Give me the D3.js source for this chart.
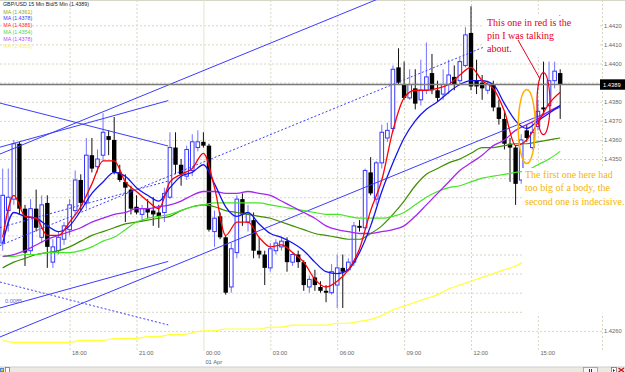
<!DOCTYPE html>
<html>
<head>
<meta charset="utf-8">
<script src="https://cdn.jsdelivr.net/npm/d3@7"></script>
<style>
  body { margin: 0; background: #fff; }
  svg { display: block; font-family: "Liberation Sans", Arial, sans-serif; }
  .note { font-family: "Liberation Serif", "Times New Roman", serif; font-size: 10px; }
</style>
</head>
<body>
<svg id="chart" width="625" height="372"></svg>
<script>
// ---- data (GBP/USD 15 min, 31 Mar 15:00 .. 01 Apr 16:00) ----
const startTime = Date.UTC(2009, 2, 31, 15, 0);
const barMinutes = 15;

const opens = [1.4306,1.4323,1.4329,1.4358,1.4324,1.4302,1.4324,1.4309,1.4327,1.4296,
  1.4302,1.4308,1.4313,1.4323,1.4339,1.4327,1.4352,1.4346,1.4352,1.4362,
  1.4360,1.4343,1.4338,1.4334,1.4325,1.4321,1.4324,1.4323,1.4322,1.4322,
  1.4330,1.4356,1.4347,1.4341,1.4344,1.4356,1.4359,1.4357,1.4312,1.4320,
  1.4309,1.4283,1.4301,1.4329,1.4317,1.4318,1.4302,1.4300,1.4293,1.4302,
  1.4304,1.4307,1.4296,1.4300,1.4296,1.4283,1.4288,1.4283,1.4281,1.4280,
  1.4284,1.4293,1.4292,1.4296,1.4315,1.4314,1.4343,1.4329,1.4348,1.4361,
  1.4366,1.4398,1.4389,1.4382,1.4387,1.4381,1.4386,1.4395,1.4386,1.4384,
  1.4389,1.4393,1.4391,1.4399,1.4416,1.4391,1.4390,1.4386,1.4389,1.4377,
  1.4371,1.4358,1.4356,1.4339,1.4365,1.4356,1.4367,1.4377,1.4378,1.4391,
  1.4395];
const highs = [1.4345,1.4345,1.4360,1.4359,1.4326,1.4329,1.4334,1.4331,1.4331,1.4308,
  1.4312,1.4317,1.4329,1.4344,1.4342,1.4361,1.4361,1.4355,1.4374,1.4365,
  1.4372,1.4347,1.4342,1.4336,1.4331,1.4326,1.4329,1.4330,1.4326,1.4335,
  1.4364,1.4364,1.4350,1.4357,1.4363,1.4365,1.4364,1.4358,1.4323,1.4322,
  1.4310,1.4306,1.4331,1.4332,1.4326,1.4322,1.4309,1.4302,1.4306,1.4308,
  1.4309,1.4309,1.4301,1.4302,1.4297,1.4289,1.4292,1.4286,1.4284,1.4295,
  1.4300,1.4300,1.4298,1.4317,1.4318,1.4345,1.4351,1.4349,1.4368,1.4369,
  1.4399,1.4408,1.4401,1.4397,1.4397,1.4402,1.4411,1.4405,1.4391,1.4397,
  1.4402,1.4399,1.4403,1.4419,1.4430,1.4402,1.4394,1.4391,1.4391,1.4381,
  1.4375,1.4361,1.4357,1.4363,1.4368,1.4370,1.4381,1.4401,1.4401,1.4401,
  1.4397];
const lows = [1.4302,1.4312,1.4326,1.4321,1.4294,1.4300,1.4312,1.4306,1.4293,1.4293,
  1.4300,1.4305,1.4310,1.4321,1.4323,1.4324,1.4343,1.4343,1.4349,1.4352,
  1.4342,1.4338,1.4317,1.4321,1.4321,1.4317,1.4319,1.4315,1.4314,1.4317,
  1.4329,1.4342,1.4336,1.4339,1.4341,1.4354,1.4356,1.4312,1.4304,1.4308,
  1.4279,1.4280,1.4298,1.4315,1.4312,1.4298,1.4298,1.4284,1.4291,1.4300,
  1.4302,1.4291,1.4294,1.4293,1.4281,1.4280,1.4281,1.4280,1.4275,1.4279,
  1.4272,1.4272,1.4291,1.4294,1.4312,1.4313,1.4331,1.4326,1.4345,1.4359,
  1.4364,1.4389,1.4381,1.4381,1.4376,1.4378,1.4384,1.4384,1.4380,1.4381,
  1.4384,1.4386,1.4389,1.4398,1.4386,1.4384,1.4381,1.4384,1.4375,1.4368,
  1.4355,1.4338,1.4326,1.4337,1.4359,1.4355,1.4365,1.4373,1.4377,1.4387,
  1.4371];
const closes = [1.4331,1.4330,1.4358,1.4324,1.4301,1.4324,1.4314,1.4326,1.4304,1.4304,
  1.4309,1.4315,1.4326,1.4339,1.4327,1.4352,1.4345,1.4350,1.4364,1.4360,
  1.4343,1.4339,1.4335,1.4324,1.4322,1.4324,1.4322,1.4321,1.4320,1.4332,
  1.4356,1.4347,1.4342,1.4355,1.4359,1.4359,1.4357,1.4313,1.4319,1.4309,
  1.4280,1.4303,1.4329,1.4321,1.4321,1.4302,1.4300,1.4293,1.4303,1.4306,
  1.4307,1.4296,1.4300,1.4296,1.4284,1.4287,1.4284,1.4281,1.4280,1.4291,
  1.4293,1.4291,1.4296,1.4315,1.4314,1.4344,1.4332,1.4348,1.4364,1.4365,
  1.4397,1.4390,1.4382,1.4389,1.4379,1.4386,1.4393,1.4386,1.4382,1.4389,
  1.4394,1.4389,1.4401,1.4415,1.4388,1.4388,1.4387,1.4389,1.4377,1.4371,
  1.4358,1.4356,1.4337,1.4360,1.4361,1.4364,1.4375,1.4376,1.4391,1.4396,
  1.4389];

// moving averages, read every second bar (bar 0, 2, 4 ... 100)
const maStep = 2;
const maRed = [1.4309,1.4331,1.4320,1.4319,1.4310,1.4310,1.4317,1.4325,1.4337,1.4349,
  1.4349,1.4338,1.4333,1.4328,1.4324,1.4338,1.4342,1.4345,1.4353,1.4335,
  1.4310,1.4317,1.4317,1.4309,1.4304,1.4305,1.4301,1.4296,1.4287,1.4283,
  1.4286,1.4292,1.4303,1.4323,1.4339,1.4365,1.4382,1.4386,1.4386,1.4387,
  1.4389,1.4394,1.4398,1.4391,1.4387,1.4375,1.4357,1.4360,1.4369,1.4379,
  1.4385];
const maBlue = [1.4306,1.4322,1.4320,1.4319,1.4315,1.4312,1.4315,1.4323,1.4332,1.4338,
  1.4343,1.4341,1.4335,1.4331,1.4328,1.4335,1.4341,1.4343,1.4347,1.4337,
  1.4325,1.4320,1.4322,1.4316,1.4311,1.4309,1.4306,1.4302,1.4296,1.4291,
  1.4290,1.4292,1.4301,1.4315,1.4333,1.4348,1.4361,1.4370,1.4376,1.4380,
  1.4385,1.4389,1.4391,1.4391,1.4389,1.4379,1.4370,1.4366,1.4370,1.4374,
  1.4378];
const maPurple = [1.4299,1.4300,1.4302,1.4305,1.4308,1.4310,1.4312,1.4314,1.4317,1.4319,
  1.4321,1.4322,1.4324,1.4324,1.4325,1.4326,1.4328,1.4331,1.4333,1.4333,
  1.4332,1.4332,1.4333,1.4332,1.4331,1.4328,1.4325,1.4322,1.4319,1.4315,
  1.4313,1.4312,1.4311,1.4311,1.4312,1.4313,1.4315,1.4320,1.4326,1.4332,
  1.4338,1.4344,1.4348,1.4352,1.4357,1.4360,1.4365,1.4368,1.4371,1.4375,
  1.4378];
const maGreen = [1.4293,1.4296,1.4298,1.4300,1.4301,1.4302,1.4304,1.4307,1.4310,1.4312,
  1.4314,1.4316,1.4317,1.4318,1.4319,1.4320,1.4323,1.4325,1.4326,1.4325,
  1.4323,1.4322,1.4321,1.4320,1.4319,1.4317,1.4315,1.4313,1.4311,1.4310,
  1.4309,1.4308,1.4308,1.4311,1.4315,1.4321,1.4328,1.4336,1.4342,1.4345,
  1.4348,1.4350,1.4353,1.4356,1.4356,1.4357,1.4358,1.4358,1.4359,1.4360,
  1.4361];
const maLime = [1.4299,1.4299,1.4300,1.4300,1.4301,1.4301,1.4301,1.4302,1.4304,1.4307,
  1.4309,1.4313,1.4317,1.4319,1.4320,1.4321,1.4323,1.4325,1.4326,1.4327,
  1.4327,1.4327,1.4327,1.4327,1.4326,1.4325,1.4324,1.4323,1.4322,1.4321,
  1.4321,1.4320,1.4319,1.4319,1.4319,1.4320,1.4322,1.4326,1.4330,1.4333,
  1.4335,1.4336,1.4338,1.4340,1.4341,1.4342,1.4343,1.4344,1.4347,1.4350,
  1.4354];
const maYellow = [1.4255,1.4254,1.4254,1.4254,1.4254,1.4254,1.4254,1.4255,1.4255,1.4255,
  1.4256,1.4256,1.4256,1.4257,1.4257,1.4258,1.4258,1.4259,1.4260,1.4260,
  1.4261,1.4261,1.4261,1.4261,1.4262,1.4262,1.4263,1.4263,1.4263,1.4263,
  1.4264,1.4264,1.4265,1.4266,1.4268,1.4271,1.4273,1.4275,1.4277,1.4279,
  1.4282,1.4284,1.4286,1.4288,1.4290,1.4292,1.4294,1.4297,1.4299,1.4301,
  1.4303];

// regression channels: [from bar, to bar], midline prices at both ends, half width
const chanLong  = { bars: [-0.5, 100],  mid: [1.43047, 1.44250], half: 0.00479 };
const chanDown  = { bars: [-0.5, 29.7], mid: [1.43141, 1.43385], half: 0.00421 };
const chanUp    = { bars: [-0.5, 29.7], mid: [1.42856, 1.42631], half: 0.00937 };

const priceTicks = [1.4260,1.4270,1.4280,1.4290,1.4300,1.4310,1.4320,1.4330,1.4340,
  1.4350,1.4360,1.4370,1.4380,1.4390,1.4400,1.4410,1.4420];

const redNote = ["This one in red is the", "pin I was talking", "about."];
const yellowNote = ["The first one here had", "too big of a body, the", "second one is indecisive."];

// ---- drawing ----
const svg = d3.select("#chart");
const plotRight = 602, plotBottom = 350;
const fmt = d3.format(".4f");
const barTime = i => new Date(startTime + i * barMinutes * 60000);

const x = d3.scaleUtc().domain([barTime(0), barTime(100)]).range([2.7, 560.2]);
const y = d3.scaleLinear().domain([1.4250, 1.4433]).range([plotBottom, 0.5]);

// the pasted note on the lower right hides part of the price scale
const noteBox = { x: 522, y: 168, w: 103, h: 145.5 };

svg.append("rect").attr("width", 625).attr("height", 372).attr("fill", "#fff");
svg.append("line").attr("x1", 0).attr("x2", 625).attr("y1", 0.5).attr("y2", 0.5)
  .attr("stroke", "#d8d6c8");

svg.append("clipPath").attr("id", "plotClip")
  .append("rect").attr("width", plotRight).attr("height", plotBottom);

// price grid + labels
const yAxis = svg.append("g")
  .call(d3.axisRight(y).tickValues(priceTicks).tickFormat(fmt).tickSize(plotRight).tickPadding(2));
yAxis.select(".domain").remove();
yAxis.selectAll("line").attr("stroke", "#d9d6c2").attr("stroke-dasharray", "2,2");
yAxis.selectAll("text").attr("font-size", "5.8px").attr("fill", "#666");
yAxis.selectAll(".tick").filter(d => y(d) > noteBox.y - 3 && y(d) < noteBox.y + noteBox.h)
  .select("text").remove();

// time grid + labels (no label for the partial first hour at the left edge)
const hourTicks = x.ticks(d3.utcHour.every(3)).filter(d => x(d) > 20);
const xAxis = svg.append("g")
  .call(d3.axisBottom(x).tickValues(hourTicks).tickFormat(d3.utcFormat("%H:%M"))
    .tickSize(plotBottom + 1).tickPadding(0));
xAxis.select(".domain").remove();
xAxis.selectAll("line")
  .attr("stroke", d => d.getUTCHours() === 0 ? "#e6e4d2" : "#d9d6c2")
  .attr("stroke-dasharray", d => d.getUTCHours() === 0 ? null : "2,2");
xAxis.selectAll("text").attr("font-size", "5.8px").attr("fill", "#666")
  .attr("text-anchor", "start").attr("dx", 2);
const midnight = hourTicks.find(d => d.getUTCHours() === 0);
svg.append("text").attr("x", x(midnight) + 2).attr("y", 363.5)
  .attr("font-size", "5.8px").attr("fill", "#666").text(d3.utcFormat("%d %b")(midnight));

svg.append("line").attr("x1", plotRight + 0.5).attr("x2", plotRight + 0.5)
  .attr("y1", 0).attr("y2", plotBottom + 1)
  .attr("stroke", "#d9d6c2").attr("stroke-dasharray", "2,2");

const plot = svg.append("g").attr("clip-path", "url(#plotClip)");

// candles
const bars = opens.map((o, i) => ({ t: barTime(i), o, h: highs[i], l: lows[i], c: closes[i] }));
const cand = plot.append("g");
cand.selectAll("line").data(bars).join("line")
  .attr("x1", d => x(d.t)).attr("x2", d => x(d.t))
  .attr("y1", d => y(d.h)).attr("y2", d => y(d.l))
  .attr("stroke", d => d.c >= d.o ? "#7373ff" : "#111")
  .attr("stroke-width", 1);
cand.selectAll("rect").data(bars).join("rect")
  .attr("x", d => d.c >= d.o ? x(d.t) - 1.8 : x(d.t) - 2.2)
  .attr("width", d => d.c >= d.o ? 3.6 : 4.4)
  .attr("y", d => y(Math.max(d.o, d.c)))
  .attr("height", d => Math.max(1, Math.abs(y(d.o) - y(d.c))))
  .attr("fill", d => d.c >= d.o ? "#fff" : "#000")
  .attr("stroke", d => d.c >= d.o ? "#3535ff" : "none")
  .attr("stroke-width", 1);

// channels
function drawChannel(ch) {
  const t0 = barTime(ch.bars[0]), t1 = barTime(ch.bars[1]);
  [[ch.half, null], [0, "2,2"], [-ch.half, null]].forEach(([off, dash]) => {
    plot.append("line")
      .attr("x1", x(t0)).attr("x2", x(t1))
      .attr("y1", y(ch.mid[0] + off)).attr("y2", y(ch.mid[1] + off))
      .attr("stroke", "#3c3cff").attr("stroke-width", 1)
      .attr("stroke-dasharray", dash);
  });
}
[chanLong, chanDown, chanUp].forEach(drawChannel);
svg.append("text").attr("x", 5).attr("y", 303).attr("font-size", "5.6px")
  .attr("fill", "#6a6ad8").text("0.0085");

// moving averages
const maSeries = [
  { vals: maYellow, color: "#ffff3a", w: 1.2 },
  { vals: maGreen,  color: "#3f8f00", w: 1.2 },
  { vals: maLime,   color: "#44e626", w: 1.2 },
  { vals: maPurple, color: "#a526f0", w: 1.3 },
  { vals: maBlue,   color: "#1414f0", w: 1.3 },
  { vals: maRed,    color: "#ff0000", w: 1.3 }
];
const maLine = d3.line()
  .x((v, k) => x(barTime(k * maStep)))
  .y(v => y(v))
  .curve(d3.curveMonotoneX);
maSeries.forEach(s => {
  plot.append("path").attr("d", maLine(s.vals))
    .attr("fill", "none").attr("stroke", s.color).attr("stroke-width", s.w);
});

// current price line and label
const last = closes[closes.length - 1];
svg.append("line").attr("x1", 0).attr("x2", 600).attr("y1", y(last)).attr("y2", y(last))
  .attr("stroke", "#7a7a7a").attr("stroke-width", 1.5);
svg.append("rect").attr("x", 600).attr("y", y(last) - 5.2).attr("width", 25).attr("height", 10.4)
  .attr("fill", "#000");
svg.append("text").attr("x", 603).attr("y", y(last) + 2).attr("font-size", "5.8px")
  .attr("fill", "#fff").text(fmt(last));

// legend
svg.append("text").attr("x", 3).attr("y", 6.3).attr("font-size", "5.3px").attr("fill", "#222")
  .text(`GBP/USD 15 Min Bid/5 Min (${fmt(last)})`);
const legendRows = [
  { vals: maGreen, color: "#7fb028" }, { vals: maBlue, color: "#3a3aff" },
  { vals: maRed, color: "#ff3030" }, { vals: maLime, color: "#4cd84c" },
  { vals: maPurple, color: "#b24cff" }, { vals: maYellow, color: "#f2f27a" }
];
legendRows.forEach((r, k) => {
  svg.append("text").attr("x", 3.3).attr("y", 13.6 + k * 6.8).attr("font-size", "5.3px")
    .attr("fill", r.color).text(`MA (${fmt(r.vals[r.vals.length - 1])})`);
});

// annotations
svg.append("rect").attr("x", 484).attr("y", 16).attr("width", 116).attr("height", 41).attr("fill", "#fff");
redNote.forEach((s, k) => {
  svg.append("text").attr("class", "note").attr("x", 487).attr("y", 25.5 + k * 13)
    .attr("fill", "#e5001a").text(s);
});
svg.append("line").attr("x1", 518).attr("y1", 40).attr("x2", 540).attr("y2", 79)
  .attr("stroke", "#e5001a").attr("stroke-width", 1);
svg.append("ellipse").attr("cx", x(barTime(97))).attr("cy", y(1.4379)).attr("rx", 6.5).attr("ry", 31)
  .attr("fill", "none").attr("stroke", "#e5001a").attr("stroke-width", 1.2);
svg.append("ellipse").attr("cx", x(barTime(94))).attr("cy", y(1.4367)).attr("rx", 8.5).attr("ry", 37)
  .attr("fill", "none").attr("stroke", "#ffb000").attr("stroke-width", 1.5);

svg.append("rect").attr("x", noteBox.x).attr("y", noteBox.y)
  .attr("width", noteBox.w).attr("height", noteBox.h).attr("fill", "#fff");
yellowNote.forEach((s, k) => {
  svg.append("text").attr("class", "note").attr("x", 525).attr("y", 177.5 + k * 13.5)
    .attr("fill", "#f5b400").text(s);
});

// scroll bar strip at the bottom
const sb = svg.append("g");
sb.append("rect").attr("x", 0).attr("y", 367).attr("width", 625).attr("height", 5).attr("fill", "#ebe9e2");
sb.append("line").attr("x1", 0).attr("x2", 625).attr("y1", 367).attr("y2", 367).attr("stroke", "#cfcfcf");
sb.append("rect").attr("x", 0).attr("y", 368).attr("width", 4).attr("height", 4).attr("fill", "#4a8ad8");
sb.append("rect").attr("x", 1).attr("y", 369).attr("width", 2).attr("height", 2).attr("fill", "#f0c020");
sb.append("rect").attr("x", 5.5).attr("y", 367.5).attr("width", 4).attr("height", 5)
  .attr("fill", "#fff").attr("stroke", "#777").attr("stroke-width", 0.8);
sb.append("rect").attr("x", 583.5).attr("y", 367.5).attr("width", 14).attr("height", 5)
  .attr("fill", "#f6f6f6").attr("stroke", "#999").attr("stroke-width", 0.8);
sb.append("rect").attr("x", 589).attr("y", 369).attr("width", 1).attr("height", 3).attr("fill", "#333");
sb.append("rect").attr("x", 591).attr("y", 369).attr("width", 1).attr("height", 3).attr("fill", "#333");
sb.append("rect").attr("x", 611.5).attr("y", 367.5).attr("width", 5).attr("height", 5)
  .attr("fill", "#fff").attr("stroke", "#777").attr("stroke-width", 0.8);
sb.append("path").attr("d", "M613,369 L615,370.5 L613,372 Z").attr("fill", "#222");
sb.append("path").attr("d", "M618.5,368 L624,372 M624,368 L618.5,372")
  .attr("stroke", "#d01010").attr("stroke-width", 1.3);
</script>
</body>
</html>
